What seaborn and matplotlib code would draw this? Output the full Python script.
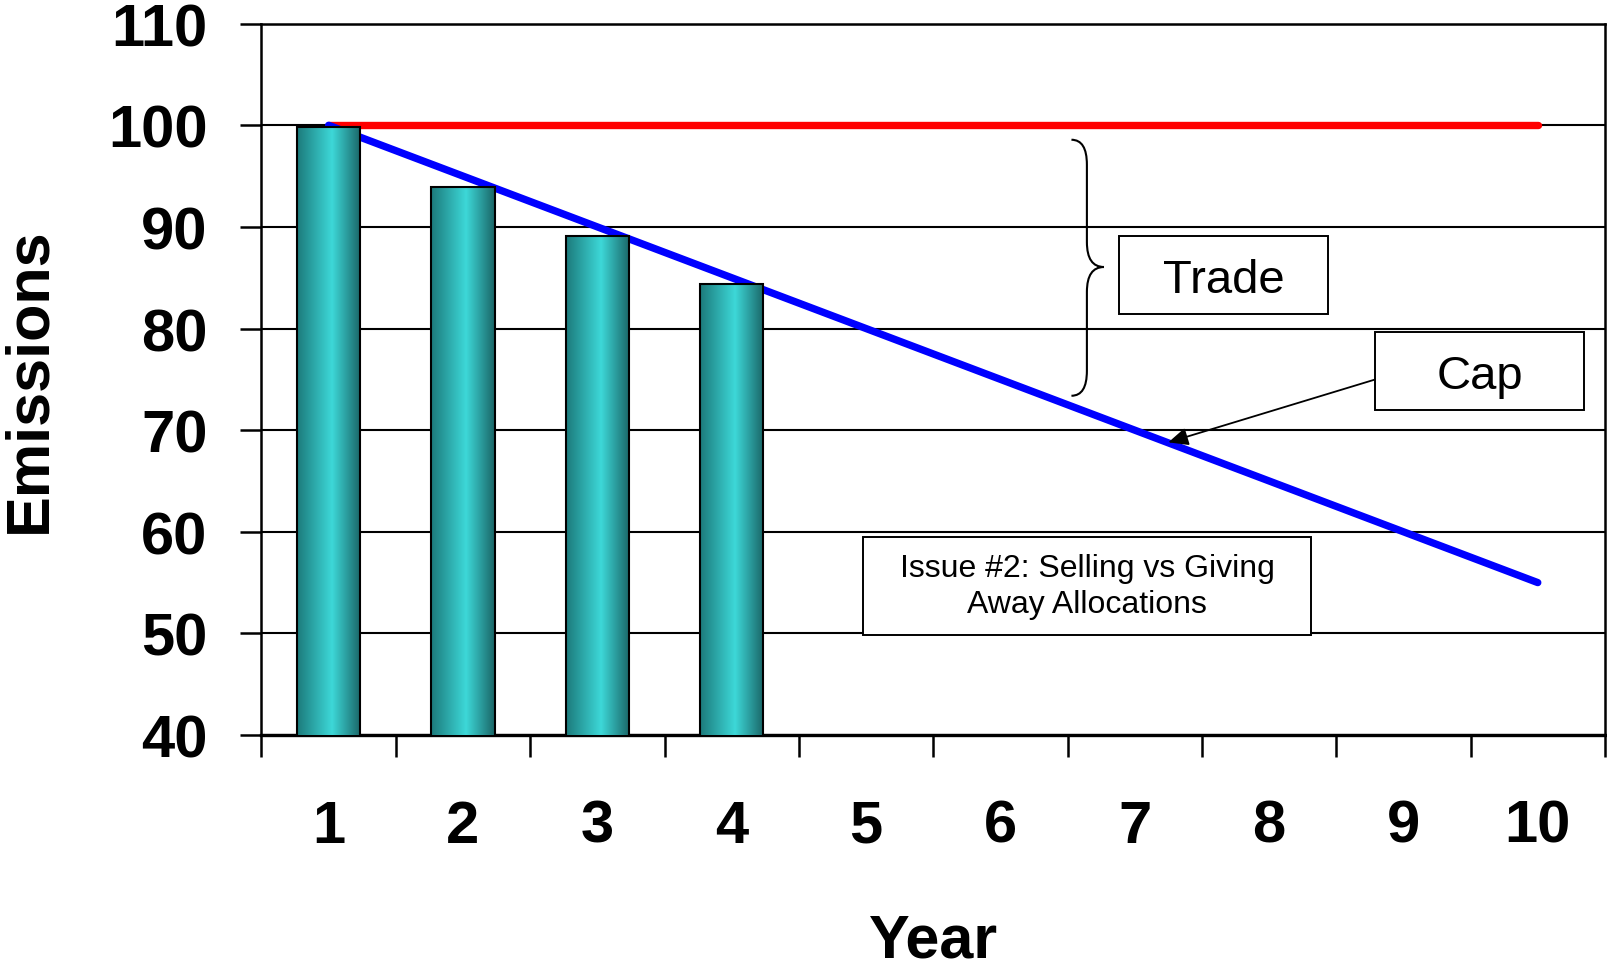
import numpy as np
import seaborn as sns
import matplotlib.pyplot as plt
from matplotlib.colors import LinearSegmentedColormap
from matplotlib.patches import Rectangle, PathPatch
from matplotlib.path import Path

# === DANE ===
years = [1, 2, 3, 4, 5, 6, 7, 8, 9, 10]
bar_years = [1, 2, 3, 4]
emissions = [99.8, 93.9, 89.1, 84.4]
baseline = [100, 100, 100, 100, 100, 100, 100, 100, 100, 100]
cap = [100, 95, 90, 85, 80, 75, 70, 65, 60, 55]
y_ticks = [40, 50, 60, 70, 80, 90, 100, 110]

# === STYL ===
sns.set_theme(style="white")
plt.rcParams["font.family"] = ["Liberation Sans", "DejaVu Sans"]
plt.rcParams["text.color"] = "black"
plt.rcParams["axes.labelcolor"] = "black"
plt.rcParams["xtick.color"] = "black"
plt.rcParams["ytick.color"] = "black"

fig = plt.figure(figsize=(16.08, 9.70), dpi=100)
ax = fig.add_axes([0.1626, 0.2412, 0.8355, 0.7334])

# linie: poziom bazowy i cap
sns.lineplot(x=years, y=baseline, color="#ff0000", lw=5.3, ax=ax,
             zorder=2, solid_capstyle="round")
sns.lineplot(x=years, y=cap, color="#0000ff", lw=5.3, ax=ax,
             zorder=2, solid_capstyle="round")

# słupki emisji
sns.barplot(x=bar_years, y=emissions, native_scale=True, width=0.47,
            color="#2fb5b5", edgecolor="black", linewidth=1.5, ax=ax)

ax.set_xlim(0.5, 10.5)
ax.set_ylim(40, 110)

# gradient w słupkach (efekt cylindra)
cmap = LinearSegmentedColormap.from_list(
    "teal", [(0, "#1c7a7b"), (0.55, "#3dd8d8"), (1, "#1a6566")])
grad = np.linspace(0, 1, 256).reshape(1, -1)
for p in list(ax.patches):
    x0, w, h = p.get_x(), p.get_width(), p.get_height()
    im = ax.imshow(grad, cmap=cmap, aspect="auto",
                   extent=[x0, x0 + w, 40, p.get_y() + h], zorder=3)
    im.set_clip_path(p)
    p.set_facecolor("none")
    p.set_zorder(4)

ax.set_xlim(0.5, 10.5)
ax.set_ylim(40, 110)

# osie
ax.set_yticks(y_ticks)
ax.set_yticklabels([str(v) for v in y_ticks], fontsize=43, fontweight="bold")
ax.set_xticks(np.arange(0.5, 11, 1))
ax.set_xticklabels([])
ax.set_xticks(years, minor=True)
ax.set_xticklabels([str(v) for v in years], minor=True,
                   fontsize=43, fontweight="bold")
ax.tick_params(axis="y", which="major", direction="out", length=14.8,
               width=1.8, color="black", pad=24, left=True)
ax.tick_params(axis="x", which="major", direction="out", length=16,
               width=1.8, color="black", bottom=True)
ax.tick_params(axis="x", which="minor", length=0, pad=46)

ax.yaxis.grid(True, color="black", lw=1.5)
ax.xaxis.grid(False)
ax.set_axisbelow(True)
for s in ax.spines.values():
    s.set_visible(True)
    s.set_color("black")
    s.set_linewidth(1.8)
ax.spines["bottom"].set_linewidth(2.4)

ax.set_xlabel("Year", fontsize=44, fontweight="bold", labelpad=42)
ax.set_ylabel("Emissions", fontsize=44, fontweight="bold", labelpad=36)

# klamra "Trade"
xl, xs, xt = 0.6029, 0.6144, 0.6271
yt, ym, yb, ry = 0.8368, 0.6579, 0.4769, 0.035
verts = [(xl, yt), (xs, yt), (xs, yt - ry),
         (xs, ym + ry), (xs, ym), (xt, ym),
         (xs, ym), (xs, ym - ry),
         (xs, yb + ry), (xs, yb), (xl, yb)]
codes = [Path.MOVETO, Path.CURVE3, Path.CURVE3,
         Path.LINETO, Path.CURVE3, Path.CURVE3,
         Path.CURVE3, Path.CURVE3,
         Path.LINETO, Path.CURVE3, Path.CURVE3]
ax.add_patch(PathPatch(Path(verts, codes), fill=False, lw=1.5,
                       edgecolor="black", transform=ax.transAxes, zorder=6))


def text_box(x0, x1, y0, y1, txt, size, va="center_baseline", ls=1.1):
    ax.add_patch(Rectangle((x0, y0), x1 - x0, y1 - y0, transform=ax.transAxes,
                           facecolor="white", edgecolor="black", lw=1.4,
                           zorder=6))
    ax.text((x0 + x1) / 2, (y0 + y1) / 2, txt, transform=ax.transAxes,
            ha="center", va=va, fontsize=size, linespacing=ls, zorder=7)


text_box(0.6383, 0.7938, 0.5918, 0.7014, "Trade", 34)
text_box(0.8288, 0.9844, 0.4568, 0.5665, "Cap", 34)
text_box(0.4477, 0.7812, 0.1406, 0.2783,
         "Issue #2: Selling vs Giving\nAway Allocations", 23,
         va="center", ls=1.3)

# strzałka do linii cap
ax.annotate("", xy=(7.25, 68.8), xycoords="data",
            xytext=(0.8288, 0.4997), textcoords="axes fraction",
            arrowprops=dict(arrowstyle="-|>,head_length=1.0,head_width=0.45",
                            color="black", lw=1.3, shrinkA=0, shrinkB=0),
            zorder=6)

fig.savefig("out.png", dpi=100)
